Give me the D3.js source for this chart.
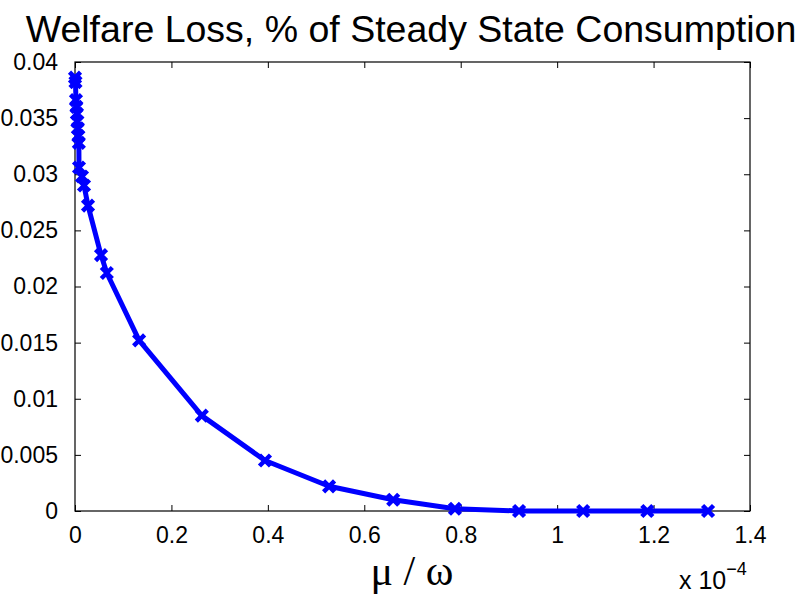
<!DOCTYPE html>
<html>
<head>
<meta charset="utf-8">
<script src="https://cdn.jsdelivr.net/npm/d3@7/dist/d3.min.js"></script>
<style>
  html, body { margin: 0; padding: 0; background: #fff; }
  svg { display: block; }
  text { font-family: "Liberation Sans", Arial, Helvetica, sans-serif; }
</style>
</head>
<body>
<svg id="chart" width="802" height="599"></svg>
<script>
// mu/omega ratio (units of 1e-4) and welfare loss (% of steady-state consumption)
const muOmega = [0.000, 0.001, 0.002, 0.003, 0.004, 0.005, 0.006, 0.007, 0.008,
                 0.0083, 0.0145, 0.0187, 0.027, 0.054, 0.066, 0.133, 0.263,
                 0.394, 0.527, 0.660, 0.788, 0.921, 1.054, 1.187, 1.313];
const welfareLoss = [0.0386, 0.0382, 0.0366, 0.0360, 0.0354, 0.0347, 0.0341, 0.0334, 0.0328,
                     0.0306, 0.0298, 0.0290, 0.0272, 0.0228, 0.0212, 0.0152, 0.0085,
                     0.0045, 0.0022, 0.0010, 0.0002, 0.0000, 0.0000, 0.0000, 0.0000];
const xTicks = [0, 0.2, 0.4, 0.6, 0.8, 1, 1.2, 1.4];
const yTicks = [0, 0.005, 0.01, 0.015, 0.02, 0.025, 0.03, 0.035, 0.04];

const svg = d3.select("#chart");
const plotL = 75, plotR = 750, plotT = 62, plotB = 511;

const x = d3.scaleLinear().domain([0, 1.4]).range([plotL, plotR]);
const y = d3.scaleLinear().domain([0, 0.04]).range([plotB, plotT]);

// Frame box
svg.append("rect")
  .attr("x", plotL).attr("y", plotT)
  .attr("width", plotR - plotL).attr("height", plotB - plotT)
  .attr("fill", "none").attr("stroke", "#000").attr("stroke-width", 1.2);

const tickLen = 6;
const fmtX = d => d === 0 ? "0" : String(+d.toFixed(1));
const fmtY = d => d === 0 ? "0" : String(+d.toFixed(3));

// Bottom axis: inward ticks + labels
const xAxis = d3.axisBottom(x).tickValues(xTicks).tickSize(-tickLen).tickPadding(16).tickFormat(fmtX);
const gx = svg.append("g").attr("transform", `translate(0,${plotB})`).call(xAxis);
// Top ticks
const xTop = d3.axisTop(x).tickValues(xTicks).tickSize(-tickLen).tickFormat("");
const gxt = svg.append("g").attr("transform", `translate(0,${plotT})`).call(xTop);

const yAxis = d3.axisLeft(y).tickValues(yTicks).tickSize(-tickLen).tickPadding(17).tickFormat(fmtY);
const gy = svg.append("g").attr("transform", `translate(${plotL},0)`).call(yAxis);
const yRight = d3.axisRight(y).tickValues(yTicks).tickSize(-tickLen).tickFormat("");
const gyr = svg.append("g").attr("transform", `translate(${plotR},0)`).call(yRight);

[gx, gxt, gy, gyr].forEach(g => {
  g.select(".domain").remove();
  g.selectAll(".tick line").attr("stroke", "#000").attr("stroke-width", 1);
  g.selectAll(".tick text").attr("fill", "#000").style("font-size", "23px")
    .style("font-family", "'Liberation Sans', Arial, sans-serif");
});

// Data line
const pts = muOmega.map((v, i) => [v, welfareLoss[i]]);
svg.append("path")
  .datum(pts)
  .attr("fill", "none")
  .attr("stroke", "#0000ff")
  .attr("stroke-width", 5)
  .attr("stroke-linejoin", "round")
  .attr("d", d3.line().x(d => x(d[0])).y(d => y(d[1])));

// Cross markers
const m = 5.5;
svg.append("g").selectAll("path.mk")
  .data(pts)
  .join("path")
  .attr("class", "mk")
  .attr("fill", "none")
  .attr("stroke", "#0000ff")
  .attr("stroke-width", 4.5)
  .attr("d", d => {
    const cx = x(d[0]), cy = y(d[1]);
    return `M${cx - m},${cy - m}L${cx + m},${cy + m}M${cx - m},${cy + m}L${cx + m},${cy - m}`;
  });

// Title
svg.append("text")
  .attr("x", 411).attr("y", 42)
  .attr("text-anchor", "middle")
  .style("font-size", "37.5px")
  .attr("fill", "#000")
  .text("Welfare Loss, % of Steady State Consumption");

// X-axis label (Greek, serif)
svg.append("text")
  .attr("x", 412).attr("y", 585)
  .attr("text-anchor", "middle")
  .style("font-family", "'Liberation Serif', 'Times New Roman', serif")
  .style("font-size", "42px")
  .attr("fill", "#000")
  .text("μ / ω");

// Exponent multiplier
const ex = svg.append("text")
  .attr("x", 679).attr("y", 589)
  .style("font-size", "25px")
  .attr("fill", "#000");
ex.append("tspan").text("x 10");
ex.append("tspan").attr("dy", -14).style("font-size", "18px").text("−4");
</script>
</body>
</html>
